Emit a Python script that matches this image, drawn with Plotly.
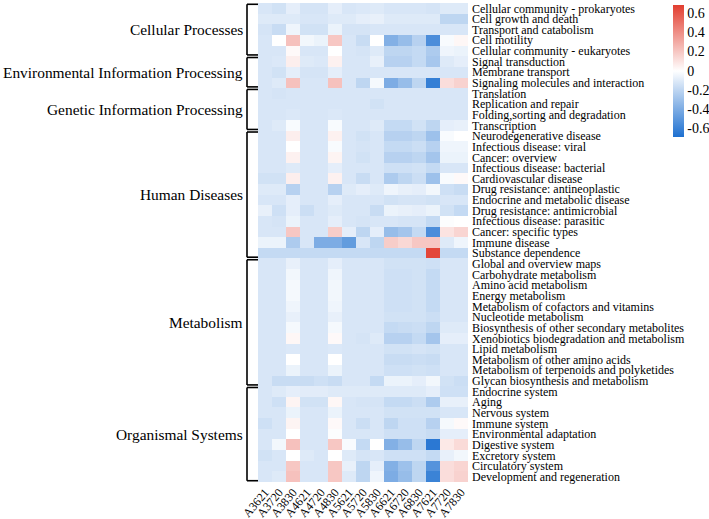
import plotly.graph_objects as go

samples = ["A3621", "A3720", "A3830", "A4621", "A4720", "A4830", "A5621", "A5720",
           "A5830", "A6621", "A6720", "A6830", "A7621", "A7720", "A7830"]

pathways = [
    "Cellular community - prokaryotes", "Cell growth and death", "Transport and catabolism",
    "Cell motility", "Cellular community - eukaryotes",
    "Signal transduction", "Membrane transport", "Signaling molecules and interaction",
    "Translation", "Replication and repair", "Folding,sorting and degradation", "Transcription",
    "Neurodegenerative disease", "Infectious disease: viral", "Cancer: overview",
    "Infectious disease: bacterial", "Cardiovascular disease", "Drug resistance: antineoplastic",
    "Endocrine and metabolic disease", "Drug resistance: antimicrobial",
    "Infectious disease: parasitic", "Cancer: specific types", "Immune disease",
    "Substance dependence",
    "Global and overview maps", "Carbohydrate metabolism", "Amino acid metabolism",
    "Energy metabolism", "Metabolism of cofactors and vitamins", "Nucleotide metabolism",
    "Biosynthesis of other secondary metabolites", "Xenobiotics biodegradation and metabolism",
    "Lipid metabolism", "Metabolism of other amino acids",
    "Metabolism of terpenoids and polyketides", "Glycan biosynthesis and metabolism",
    "Endocrine system", "Aging", "Nervous system", "Immune system", "Environmental adaptation",
    "Digestive system", "Excretory system", "Circulatory system", "Development and regeneration",
]

groups = ["Cellular Processes", "Environmental Information Processing",
          "Genetic Information Processing", "Human Diseases", "Metabolism",
          "Organismal Systems"]
group_sizes = [5, 3, 4, 12, 12, 9]

values = [
    [-0.12, -0.14, -0.08, -0.13, -0.13, -0.08, -0.12, -0.11, -0.10, -0.12, -0.12, -0.12, -0.13, -0.10, -0.10],
    [-0.10, -0.10, -0.10, -0.12, -0.12, -0.10, -0.10, -0.08, -0.07, -0.10, -0.10, -0.10, -0.10, -0.20, -0.20],
    [-0.13, -0.17, -0.05, -0.14, -0.14, -0.06, -0.13, -0.13, -0.12, -0.12, -0.12, -0.12, -0.12, -0.12, -0.12],
    [-0.12, 0.00, 0.22, -0.04, -0.06, 0.20, -0.12, -0.17, 0.00, -0.38, -0.32, -0.22, -0.55, -0.02, 0.03],
    [-0.12, -0.12, 0.02, -0.12, -0.12, 0.00, -0.12, -0.13, -0.10, -0.20, -0.20, -0.18, -0.25, -0.05, -0.06],
    [-0.12, -0.11, 0.06, -0.10, -0.11, 0.05, -0.12, -0.12, -0.07, -0.22, -0.22, -0.18, -0.27, -0.10, -0.08],
    [-0.12, -0.14, -0.08, -0.13, -0.13, -0.08, -0.12, -0.12, -0.12, -0.12, -0.12, -0.12, -0.12, -0.12, -0.12],
    [-0.12, -0.10, 0.22, -0.12, -0.12, 0.22, -0.12, -0.20, -0.03, -0.40, -0.32, -0.20, -0.62, 0.12, 0.16],
    [-0.12, -0.13, -0.12, -0.12, -0.12, -0.12, -0.12, -0.12, -0.12, -0.12, -0.12, -0.12, -0.12, -0.12, -0.12],
    [-0.12, -0.12, -0.12, -0.12, -0.12, -0.12, -0.12, -0.12, -0.14, -0.12, -0.12, -0.12, -0.12, -0.12, -0.12],
    [-0.12, -0.12, -0.11, -0.12, -0.12, -0.11, -0.12, -0.12, -0.12, -0.12, -0.12, -0.12, -0.12, -0.12, -0.12],
    [-0.12, -0.10, -0.02, -0.12, -0.12, -0.02, -0.12, -0.12, -0.10, -0.18, -0.18, -0.14, -0.20, -0.08, -0.07],
    [-0.12, -0.12, 0.06, -0.12, -0.12, 0.05, -0.12, -0.14, -0.12, -0.22, -0.22, -0.20, -0.30, -0.02, 0.00],
    [-0.12, -0.12, 0.00, -0.12, -0.12, -0.02, -0.12, -0.13, -0.12, -0.18, -0.18, -0.16, -0.22, -0.05, -0.05],
    [-0.12, -0.12, 0.05, -0.12, -0.12, 0.04, -0.12, -0.14, -0.12, -0.22, -0.22, -0.20, -0.28, -0.06, -0.06],
    [-0.12, -0.12, -0.10, -0.12, -0.12, -0.08, -0.12, -0.12, -0.12, -0.15, -0.15, -0.14, -0.18, -0.12, -0.12],
    [-0.14, -0.14, 0.06, -0.12, -0.12, 0.05, -0.12, -0.17, -0.12, -0.25, -0.20, -0.16, -0.30, -0.02, 0.02],
    [-0.10, -0.10, -0.22, -0.12, -0.12, -0.22, -0.10, -0.08, -0.10, -0.05, -0.07, -0.08, -0.04, -0.15, -0.17],
    [-0.12, -0.12, -0.08, -0.12, -0.12, -0.08, -0.12, -0.12, -0.12, -0.14, -0.13, -0.13, -0.14, -0.12, -0.12],
    [-0.07, -0.15, -0.08, -0.16, -0.12, -0.10, -0.12, -0.12, -0.17, -0.06, -0.07, -0.08, -0.06, -0.14, -0.18],
    [-0.12, -0.13, -0.06, -0.12, -0.12, -0.08, -0.12, -0.13, -0.12, -0.12, -0.13, -0.13, -0.18, -0.01, 0.00],
    [-0.12, -0.12, 0.20, -0.12, -0.12, 0.18, -0.08, -0.20, -0.08, -0.32, -0.28, -0.18, -0.55, 0.10, 0.15],
    [-0.06, -0.06, -0.25, -0.12, -0.40, -0.40, -0.48, -0.12, -0.20, 0.18, 0.14, 0.20, 0.20, -0.10, -0.05],
    [-0.18, -0.18, -0.18, -0.18, -0.18, -0.18, -0.18, -0.18, -0.18, -0.18, -0.18, -0.18, 0.66, -0.18, -0.18],
    [-0.12, -0.12, -0.07, -0.12, -0.12, -0.08, -0.12, -0.12, -0.12, -0.14, -0.14, -0.14, -0.15, -0.12, -0.12],
    [-0.12, -0.12, -0.04, -0.12, -0.12, -0.05, -0.12, -0.12, -0.12, -0.15, -0.15, -0.14, -0.18, -0.12, -0.12],
    [-0.12, -0.12, -0.03, -0.12, -0.12, -0.04, -0.12, -0.12, -0.12, -0.15, -0.15, -0.14, -0.18, -0.12, -0.12],
    [-0.12, -0.12, -0.03, -0.12, -0.12, -0.04, -0.12, -0.12, -0.12, -0.15, -0.15, -0.14, -0.18, -0.12, -0.12],
    [-0.12, -0.12, -0.05, -0.12, -0.12, -0.05, -0.12, -0.12, -0.12, -0.15, -0.15, -0.14, -0.18, -0.12, -0.12],
    [-0.12, -0.12, -0.07, -0.12, -0.12, -0.07, -0.12, -0.12, -0.12, -0.14, -0.14, -0.14, -0.16, -0.12, -0.12],
    [-0.12, -0.12, -0.03, -0.12, -0.12, -0.03, -0.12, -0.12, -0.12, -0.18, -0.17, -0.16, -0.20, -0.10, -0.10],
    [-0.12, -0.12, 0.03, -0.12, -0.12, 0.02, -0.12, -0.13, -0.10, -0.22, -0.22, -0.18, -0.28, -0.08, -0.08],
    [-0.12, -0.12, -0.11, -0.12, -0.12, -0.11, -0.12, -0.12, -0.12, -0.14, -0.14, -0.13, -0.14, -0.12, -0.12],
    [-0.12, -0.12, 0.00, -0.12, -0.12, 0.00, -0.12, -0.12, -0.12, -0.17, -0.17, -0.16, -0.17, -0.12, -0.12],
    [-0.12, -0.12, -0.06, -0.12, -0.12, -0.06, -0.12, -0.12, -0.12, -0.15, -0.15, -0.14, -0.15, -0.12, -0.12],
    [-0.12, -0.17, -0.17, -0.17, -0.15, -0.17, -0.12, -0.12, -0.18, -0.06, -0.06, -0.08, -0.04, -0.14, -0.16],
    [-0.12, -0.10, -0.08, -0.09, -0.09, -0.10, -0.10, -0.10, -0.10, -0.10, -0.10, -0.10, -0.08, -0.15, -0.15],
    [-0.12, -0.15, 0.04, -0.14, -0.14, 0.03, -0.12, -0.13, -0.13, -0.18, -0.18, -0.16, -0.25, -0.07, -0.07],
    [-0.12, -0.12, -0.06, -0.12, -0.12, -0.06, -0.12, -0.12, -0.12, -0.14, -0.14, -0.14, -0.14, -0.12, -0.12],
    [-0.15, -0.12, 0.04, -0.12, -0.12, 0.02, -0.12, -0.16, -0.12, -0.20, -0.15, -0.15, -0.22, -0.03, 0.02],
    [-0.12, -0.12, 0.00, -0.12, -0.12, -0.01, -0.12, -0.12, -0.12, -0.15, -0.15, -0.15, -0.17, -0.08, -0.08],
    [-0.12, -0.04, 0.22, -0.12, -0.12, 0.20, -0.02, -0.18, 0.00, -0.38, -0.32, -0.20, -0.65, 0.08, 0.13],
    [-0.14, -0.12, 0.00, -0.10, -0.12, 0.00, -0.10, -0.13, -0.12, -0.15, -0.15, -0.15, -0.18, -0.07, -0.04],
    [-0.12, -0.12, 0.20, -0.12, -0.12, 0.20, -0.07, -0.20, -0.08, -0.38, -0.30, -0.20, -0.52, 0.12, 0.15],
    [-0.12, -0.10, 0.22, -0.12, -0.12, 0.20, -0.10, -0.20, -0.05, -0.40, -0.32, -0.20, -0.60, 0.12, 0.16],
]

cbar_ticks = [0.6, 0.4, 0.2, 0, -0.2, -0.4, -0.6]

SERIF = "Liberation Serif, Times New Roman, serif"

row_idx = list(range(len(pathways)))

fig = go.Figure(go.Heatmap(
    z=values,
    x=samples,
    y=row_idx,
    zmin=-0.69, zmax=0.69, zmid=0,
    colorscale=[[0, "rgb(30,112,208)"], [0.5, "rgb(255,255,255)"], [1, "rgb(226,62,48)"]],
    xgap=0, ygap=0,
    colorbar=dict(
        xref="container", x=673 / 709, xanchor="left", xpad=0,
        yref="container", y=1 - 5 / 519, yanchor="top", ypad=0,
        len=132, lenmode="pixels", thickness=11,
        outlinewidth=0, ticks="", tickvals=cbar_ticks,
        ticktext=[str(t) for t in cbar_ticks],
        tickfont=dict(family=SERIF, size=14, color="black"),
    ),
))

shapes = []
annotations = []
start = 0
bx0 = (247 - 258) / 210
for g, n in zip(groups, group_sizes):
    top = start - 0.5 + 0.12
    bot = start + n - 0.5 - 0.12
    line = dict(color="black", width=1.6)
    shapes.append(dict(type="line", xref="paper", yref="y", x0=bx0, x1=bx0, y0=top, y1=bot, line=line))
    shapes.append(dict(type="line", xref="paper", yref="y", x0=bx0, x1=0, y0=top, y1=top, line=line))
    shapes.append(dict(type="line", xref="paper", yref="y", x0=bx0, x1=0, y0=bot, y1=bot, line=line))
    annotations.append(dict(
        xref="paper", yref="y", x=(245 - 258) / 210, y=start + (n - 1) / 2,
        text=g, showarrow=False, xanchor="right", yanchor="middle",
        font=dict(family=SERIF, size=15.4, color="black"),
    ))
    start += n

fig.update_layout(
    width=709, height=519,
    margin=dict(l=258, r=241, t=3, b=37, autoexpand=False),
    paper_bgcolor="white", plot_bgcolor="white",
    shapes=shapes, annotations=annotations,
    xaxis=dict(
        tickmode="array", tickvals=samples, ticktext=samples,
        tickangle=-50, tickfont=dict(family=SERIF, size=12, color="black"),
        showgrid=False, zeroline=False, showline=False, ticks="", automargin=False,
    ),
    yaxis=dict(
        side="right", autorange="reversed",
        tickvals=row_idx, ticktext=pathways,
        tickfont=dict(family=SERIF, size=12, color="black"),
        ticklabelstandoff=3,
        showgrid=False, zeroline=False, showline=False, ticks="", automargin=False,
    ),
)

fig.write_html(
    "out.html",
    config={"displayModeBar": False},
    post_script="document.body.style.margin='0';document.body.style.overflow='hidden';",
)
